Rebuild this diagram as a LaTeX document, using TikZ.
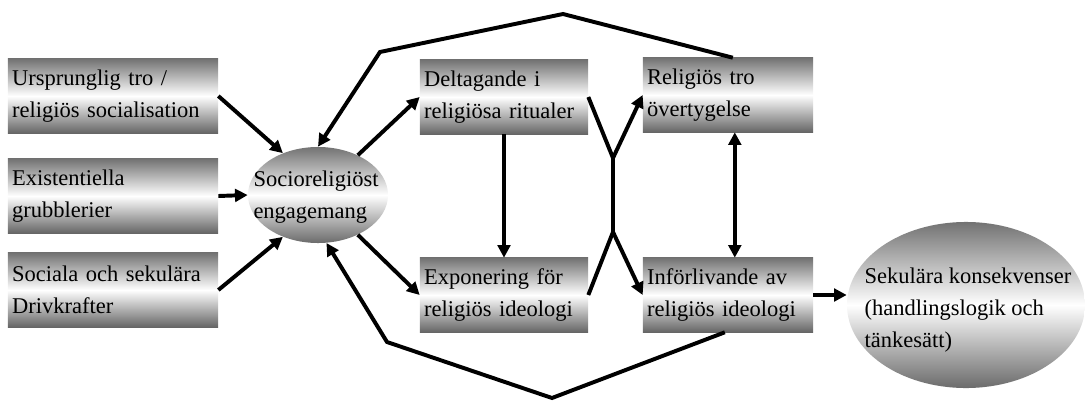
\documentclass[tikz,border=0pt]{standalone}
\usepackage{fontspec}
\setmainfont{Liberation Serif}
\usetikzlibrary{arrows.meta,shapes.geometric}

\tikzset{
  box/.style={rectangle, text width=#1, inner xsep=3pt, minimum height=1.85cm,
    align=left, top color=black!55, bottom color=black!60, middle color=white,
    font=\fontsize{16}{22.5}\selectfont},
  oval/.style={ellipse, inner sep=0pt, top color=black!55, bottom color=black!58,
    middle color=white},
  ovaltext/.style={align=left, font=\fontsize{16}{22.5}\selectfont},
  arr/.style={line width=2.8pt, -{Triangle[length=9pt,width=9pt]}},
  dbl/.style={line width=2.8pt, {Triangle[length=9pt,width=9pt]}-{Triangle[length=9pt,width=9pt]}},
  seg/.style={line width=2.8pt}
}

\begin{document}
\begin{tikzpicture}[x=0.025cm, y=-0.025cm]
  \useasboundingbox (0,0) rectangle (1085,401);

  % Left column: driving forces
  \node[box=5.04cm] (urspr) at (113,96) {Ursprunglig tro /\\religiös socialisation};
  \node[box=5.04cm] (exist) at (113,196) {Existentiella\\grubblerier};
  \node[box=5.04cm] (sociala) at (113,290) {Sociala och sekulära\\Drivkrafter};

  % Central oval
  \node[oval, minimum width=3.5cm, minimum height=2.4cm] (socio) at (318,195) {};
  \node[ovaltext] (sociotext) at (316,197) {Socioreligiöst\\engagemang};

  % Middle column
  \node[box=3.99cm] (delt) at (504,97) {Deltagande i\\religiösa ritualer};
  \node[box=3.99cm] (expon) at (504,295) {Exponering för\\religiös ideologi};

  % Right column
  \node[box=4.04cm] (relig) at (728,95) {Religiös tro\\övertygelse};
  \node[box=4.04cm] (inforl) at (728,295) {Införlivande av\\religiös ideologi};

  % Outcome oval
  \node[oval, minimum width=5.95cm, minimum height=4.15cm] (sekul) at (966,305) {};
  \node[ovaltext] (sekultext) at (968,310) {Sekulära konsekvenser\\(handlingslogik och\\tänkesätt)};

  % Inputs to the central oval
  \draw[arr] (urspr.east) -- (socio.130);
  \draw[arr] (exist.east) -- (socio.west);
  \draw[arr] (sociala.east) -- (socio.230);

  % Out of the central oval
  \draw[arr] (socio.45) -- (delt.west);
  \draw[arr] (socio.-45) -- (expon.west);
  \draw[arr] (delt.south) -- (expon.north);

  % Crossing between the two columns
  \coordinate (J1) at (613,158);
  \coordinate (J2) at (613,232);
  \draw[seg] (delt.east) -- (J1) -- (J2);
  \draw[seg] (expon.east) -- (J2);
  \draw[arr] (J1) -- (relig.west);
  \draw[arr] (J2) -- (inforl.west);

  % Between belief and internalisation, and on to the outcome
  \draw[dbl] ([xshift=0.17cm]relig.south) -- ([xshift=0.17cm]inforl.north);
  \draw[arr] (inforl.east) -- (sekul.west |- inforl.east);

  % Feedback loops back to the central oval
  \coordinate (T1) at (563,14);
  \coordinate (T2) at (380,52);
  \draw[arr] ([xshift=0.12cm]relig.north) -- (T1) -- (T2) -- (socio.north);
  \coordinate (B1) at (552,398);
  \coordinate (B2) at (387,342);
  \draw[arr] ([xshift=-0.08cm]inforl.south) -- (B1) -- (B2) -- (socio.-80);
\end{tikzpicture}
\end{document}
